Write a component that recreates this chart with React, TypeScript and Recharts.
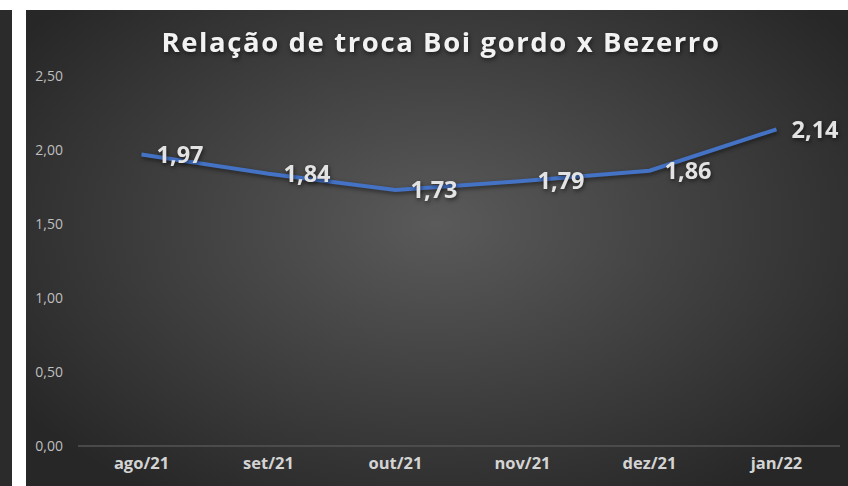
import { CartesianGrid, LabelList, Line, LineChart, XAxis, YAxis } from "recharts";

const months = ["ago/21", "set/21", "out/21", "nov/21", "dez/21", "jan/22"];
const ratio = [1.97, 1.84, 1.73, 1.79, 1.86, 2.14];
const yTicks = [0, 0.5, 1, 1.5, 2, 2.5];

const data = months.map((month, i) => ({ month, ratio: ratio[i] }));

const fmt = (v: number) => v.toFixed(2).replace(".", ",");
const SHADOW = "drop-shadow(1px 2px 2px rgba(0,0,0,0.55))";

export default function App() {
  return (
    <div style={{ position: "relative", width: 848, height: 486, background: "#fff", overflow: "hidden" }}>
      <style>{`body{margin:0}`}</style>
      <div style={{ position: "absolute", left: 0, top: 10, width: 12, height: 476, background: "#2b2b2b" }} />
      <div
        style={{
          position: "absolute",
          left: 26,
          top: 10,
          width: 822,
          height: 476,
          background: "radial-gradient(ellipse 62% 68% at 50% 45%, #5a5a5a 0%, #3e3e3e 55%, #272727 100%)",
        }}
      >
        <div
          style={{
            position: "absolute",
            top: 13,
            left: 4,
            width: 822,
            textAlign: "center",
            color: "#f2f2f2",
            fontFamily: "'Open Sans', sans-serif",
            fontWeight: 700,
            fontSize: 27.5,
            letterSpacing: 1.6,
            filter: SHADOW,
          }}
        >
          Relação de troca Boi gordo x Bezerro
        </div>
        <LineChart width={822} height={476} data={data} margin={{ top: 66, right: 8, left: 0, bottom: 0 }}>
          <CartesianGrid vertical={false} horizontal={false} />
          <XAxis
            dataKey="month"
            height={40}
            padding={{ left: 63.5, right: 63.5 }}
            axisLine={{ stroke: "#545454", strokeWidth: 1.5 }}
            tickLine={false}
            tickSize={0}
            tickMargin={11}
            tick={{ fill: "#d4d4d4", fontSize: 16.5, fontWeight: 700, fontFamily: "'Open Sans', sans-serif" }}
          />
          <YAxis
            width={52}
            domain={[0, 2.5]}
            ticks={yTicks}
            tickFormatter={fmt}
            axisLine={false}
            tickLine={false}
            tickSize={0}
            tickMargin={15}
            tick={{ fill: "#bfbfbf", fontSize: 14, fontFamily: "'Open Sans', sans-serif" }}
          />
          <Line
            type="linear"
            dataKey="ratio"
            stroke="#4472c4"
            strokeWidth={4}
            dot={false}
            activeDot={false}
            isAnimationActive={false}
            style={{ filter: "drop-shadow(1px 2px 2px rgba(0,0,0,0.5))" }}
          >
            <LabelList
              dataKey="ratio"
              position="right"
              offset={15}
              formatter={(v: number) => fmt(v)}
              fill="#e3e3e3"
              fontSize={23.5}
              fontWeight={700}
              fontFamily="'Open Sans', sans-serif"
              style={{ filter: SHADOW }}
            />
          </Line>
        </LineChart>
      </div>
    </div>
  );
}
